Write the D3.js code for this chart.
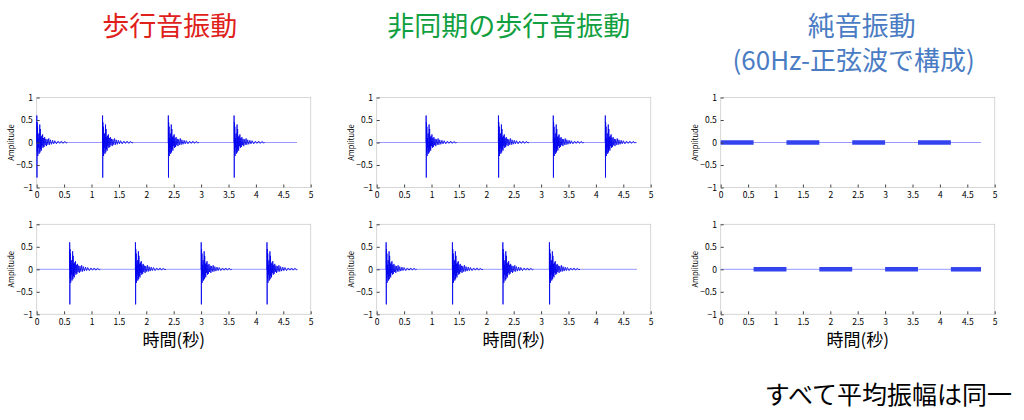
<!DOCTYPE html>
<html><head><meta charset="utf-8">
<script src="https://cdn.jsdelivr.net/npm/d3@7"></script>
<style>body{margin:0;background:#fff}text{font-family:"Noto Sans CJK JP","DejaVu Sans",sans-serif}</style>
</head><body><svg id="c" width="1024" height="420"></svg>
<script>
// burst template: [time offset (s), amplitude]
const burst = [[0,0],[0.002,0.6],[0.005,-0.78],[0.008,0.45],[0.012,-0.2],[0.016,0.35],[0.02,-0.3],[0.026,0.1],
  [0.032,-0.12],[0.038,0.2],[0.044,-0.25],[0.05,0.05],[0.056,0.4],[0.06,-0.22],[0.066,0.3],[0.072,-0.15],[0.078,0.12],
  [0.085,-0.18],[0.092,0.15],[0.1,-0.08],[0.108,0.18],[0.116,-0.12],[0.124,0.1],[0.134,-0.1],[0.144,0.12],[0.154,-0.06],
  [0.166,0.08],[0.178,-0.08],[0.19,0.07],[0.205,-0.05],[0.22,0.09],[0.235,-0.05],[0.25,0.06],[0.27,-0.04],[0.29,0.05],
  [0.31,-0.03],[0.33,0.04],[0.36,-0.03],[0.39,0.03],[0.42,-0.02],[0.45,0.03],[0.48,-0.02],[0.51,0.025],[0.54,-0.01],[0.56,0]];
const onsets = [
  [0, 1.2, 2.4, 3.6],
  [0.6, 1.8, 3.0, 4.2],
  [0.9, 2.22, 3.22, 4.17],
  [0.17, 1.38, 2.3, 3.15]
];
const toneTop = [[0,0.6],[1.2,1.8],[2.4,3.0],[3.6,4.2]];
const toneBottom = [[0.6,1.2],[1.8,2.4],[3.0,3.6],[4.2,4.75]];
const toneAmp = 0.05;
const endTime = 4.75;
const xTicks = [0,0.5,1,1.5,2,2.5,3,3.5,4,4.5,5];
const yTicks = [-1,-0.5,0,0.5,1];

const svg = d3.select("#c");
const colX = [36.7, 376.7, 720.7], pw = 274, rowY = [97.5, 224.3], ph = 90;

function panel(cx, ry, draw) {
  const x = d3.scaleLinear().domain([0,5]).range([cx, cx+pw]);
  const y = d3.scaleLinear().domain([-1,1]).range([ry+ph, ry]);
  const g = svg.append("g");
  g.append("rect").attr("x",cx).attr("y",ry).attr("width",pw).attr("height",ph)
    .attr("fill","none").attr("stroke","#ccc").attr("stroke-width",0.8);
  g.append("line").attr("x1",x(0)).attr("x2",x(endTime)).attr("y1",y(0)).attr("y2",y(0))
    .attr("stroke","#9999ff").attr("stroke-width",1);
  draw(g, x, y);
  const ax = g.append("g").attr("transform",`translate(0,${ry+ph})`)
    .call(d3.axisBottom(x).tickValues(xTicks).tickSize(-3).tickFormat(d3.format("")));
  const ay = g.append("g").attr("transform",`translate(${cx},0)`)
    .call(d3.axisLeft(y).tickValues(yTicks).tickSize(-3).tickFormat(d3.format("")));
  [ax, ay].forEach(a => {
    a.select(".domain").remove();
    a.selectAll("line").attr("stroke","#444");
    a.selectAll("text").attr("font-size",8.5).attr("font-family","Liberation Sans").attr("fill","#000");
  });
  ax.selectAll("text").attr("dy","0.9em");
  ay.selectAll("text").attr("dx","-0.1em");
  g.append("text").attr("transform",`translate(${cx-23},${ry+ph/2}) rotate(-90)`)
    .attr("text-anchor","middle").attr("font-size",7.5).attr("font-family","Liberation Sans").text("Amplitude");
}

const line = (x, y) => d3.line().x(d => x(d[0])).y(d => y(d[1]));
function bursts(list) {
  return (g, x, y) => list.forEach(t0 => {
    g.append("path").attr("d", line(x,y)(burst.map(p => [t0+p[0], p[1]])))
      .attr("fill","none").attr("stroke","#0000ee").attr("stroke-width",0.8);
  });
}
function tones(list) {
  return (g, x, y) => list.forEach(s => {
    g.append("path").attr("d", d3.area().x(d=>x(d)).y0(y(-toneAmp)).y1(y(toneAmp))(s))
      .attr("fill","#3344ee");
  });
}

panel(colX[0], rowY[0], bursts(onsets[0]));
panel(colX[0], rowY[1], bursts(onsets[1]));
panel(colX[1], rowY[0], bursts(onsets[2]));
panel(colX[1], rowY[1], bursts(onsets[3]));
panel(colX[2], rowY[0], tones(toneTop));
panel(colX[2], rowY[1], tones(toneBottom));

const titles = [["歩行音振動","#e0201a",colX[0]-4],["非同期の歩行音振動","#10a040",colX[1]-5],["純音振動","#4a7cc4",colX[2]+4]];
titles.forEach(t => svg.append("text").attr("x",t[2]+pw/2).attr("y",36).attr("text-anchor","middle")
  .attr("font-size",27).attr("fill",t[1]).text(t[0]));
svg.append("text").attr("x",colX[2]+pw/2-4).attr("y",70).attr("text-anchor","middle")
  .attr("font-size",26).attr("fill","#4a7cc4").text("(60Hz-正弦波で構成)");
colX.forEach(cx => svg.append("text").attr("x",cx+pw/2).attr("y",346).attr("text-anchor","middle")
  .attr("font-size",17).text("時間(秒)"));
svg.append("text").attr("x",1012).attr("y",404).attr("text-anchor","end").attr("font-size",25).text("すべて平均振幅は同一");
</script></body></html>
